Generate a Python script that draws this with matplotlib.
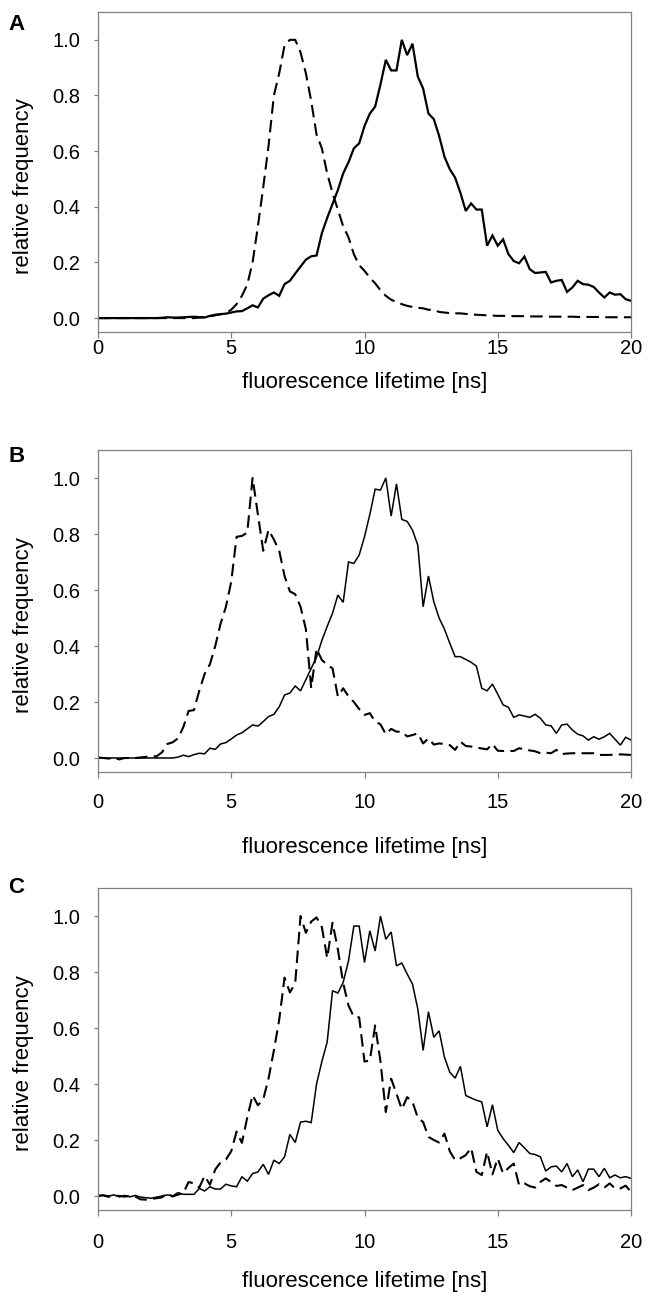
# Fluorescence lifetime histograms, three panels (A, B, C)
# solid and dashed curves, relative frequency vs lifetime in ns

import matplotlib
matplotlib.use('Agg')
import matplotlib.pyplot as plt
from matplotlib.ticker import FormatStrFormatter
import numpy as np

plt.rcParams['font.family'] = ['Liberation Sans', 'DejaVu Sans']

# lifetime bins, 0.2 ns wide, 0 to 20 ns (101 points)
lifetime = np.linspace(0, 20, 101)

# Panel A
a_solid = [0, 0, 0, 0, 0, 0, 0, 0, 0, 0,
           0, 0, 0.001, 0.003, 0.002, 0.002, 0.003, 0.004, 0.005, 0.003,
           0.002, 0.008, 0.012, 0.014, 0.016, 0.02, 0.024, 0.025, 0.035, 0.046,
           0.038, 0.07, 0.082, 0.092, 0.08, 0.122, 0.134, 0.16, 0.185, 0.21,
           0.222, 0.225, 0.305, 0.36, 0.41, 0.46, 0.52, 0.56, 0.61, 0.628,
           0.69, 0.735, 0.76, 0.84, 0.928, 0.89, 0.89, 1.0, 0.945, 0.986,
           0.868, 0.825, 0.735, 0.715, 0.655, 0.58, 0.535, 0.505, 0.45, 0.385,
           0.412, 0.39, 0.39, 0.26, 0.297, 0.26, 0.283, 0.23, 0.205, 0.197,
           0.221, 0.176, 0.162, 0.164, 0.166, 0.128, 0.134, 0.137, 0.094, 0.11,
           0.134, 0.122, 0.12, 0.112, 0.092, 0.074, 0.092, 0.084, 0.086, 0.068,
           0.062]
a_dashed = [0, 0, 0, 0, 0, 0, 0, 0, 0, 0,
            0, 0, 0, 0, 0, 0, 0, 0, 0, 0.002,
            0.004, 0.006, 0.01, 0.014, 0.018, 0.03, 0.05, 0.08, 0.12, 0.2,
            0.33, 0.47, 0.62, 0.8, 0.88, 0.98, 1.0, 1.0, 0.955, 0.88,
            0.78, 0.66, 0.61, 0.52, 0.45, 0.39, 0.33, 0.29, 0.23, 0.19,
            0.17, 0.145, 0.125, 0.1, 0.08, 0.066, 0.058, 0.05, 0.044, 0.04,
            0.037, 0.035, 0.03, 0.03, 0.022, 0.02, 0.018, 0.017, 0.017, 0.015,
            0.013, 0.012, 0.011, 0.01, 0.009, 0.008, 0.008, 0.008, 0.007, 0.007,
            0.007, 0.006, 0.006, 0.006, 0.006, 0.005, 0.005, 0.005, 0.005, 0.005,
            0.004, 0.004, 0.004, 0.004, 0.004, 0.003, 0.003, 0.003, 0.003, 0.003,
            0.003]

# Panel B
b_solid = [0, 0, 0, 0, 0, 0, 0, 0, 0, 0,
           0, 0, 0, 0, 0, 0.003, 0.01, 0.005, 0.012, 0.017,
           0.015, 0.035, 0.031, 0.05, 0.055, 0.068, 0.082, 0.09, 0.104, 0.118,
           0.114, 0.13, 0.148, 0.156, 0.183, 0.225, 0.232, 0.257, 0.24, 0.28,
           0.32, 0.36, 0.42, 0.47, 0.517, 0.582, 0.556, 0.70, 0.695, 0.725,
           0.79, 0.87, 0.96, 0.957, 1.0, 0.864, 0.979, 0.852, 0.845, 0.814,
           0.76, 0.54, 0.65, 0.558, 0.50, 0.46, 0.41, 0.362, 0.362, 0.352,
           0.342, 0.328, 0.249, 0.24, 0.264, 0.228, 0.19, 0.181, 0.145, 0.154,
           0.15, 0.145, 0.156, 0.142, 0.118, 0.115, 0.088, 0.118, 0.121, 0.1,
           0.085, 0.079, 0.064, 0.076, 0.067, 0.076, 0.088, 0.067, 0.046, 0.074,
           0.064]
b_dashed = [0.002, 0, -0.002, 0, -0.005, 0, 0, 0, 0.002, 0.004,
            0.006, 0.006, 0.02, 0.05, 0.056, 0.07, 0.11, 0.168, 0.171, 0.24,
            0.30, 0.335, 0.40, 0.48, 0.54, 0.63, 0.79, 0.793, 0.805, 1.0,
            0.87, 0.74, 0.815, 0.78, 0.74, 0.65, 0.595, 0.585, 0.54, 0.46,
            0.25, 0.39, 0.35, 0.333, 0.32, 0.22, 0.249, 0.22, 0.2, 0.175,
            0.154, 0.16, 0.13, 0.12, 0.085, 0.104, 0.094, 0.094, 0.077, 0.082,
            0.088, 0.052, 0.07, 0.048, 0.052, 0.05, 0.046, 0.029, 0.058, 0.043,
            0.041, 0.037, 0.034, 0.031, 0.05, 0.026, 0.025, 0.025, 0.025, 0.035,
            0.031, 0.027, 0.024, 0.017, 0.019, 0.017, 0.029, 0.014, 0.016, 0.017,
            0.017, 0.017, 0.017, 0.017, 0.011, 0.011, 0.011, 0.012, 0.013, 0.012,
            0.011]

# Panel C
c_solid = [0.002, 0.003, 0, 0.004, -0.003, 0.002, -0.003, 0.002, -0.004, -0.006,
           -0.008, -0.004, 0, 0.004, 0, 0.012, 0.006, 0.006, 0.006, 0.027,
           0.018, 0.033, 0.025, 0.025, 0.042, 0.036, 0.033, 0.069, 0.053, 0.08,
           0.086, 0.113, 0.077, 0.128, 0.116, 0.14, 0.22, 0.191, 0.264, 0.267,
           0.262, 0.40, 0.48, 0.55, 0.733, 0.725, 0.763, 0.84, 0.964, 0.964,
           0.834, 0.947, 0.875, 1.0, 0.917, 0.943, 0.822, 0.832, 0.793, 0.757,
           0.668, 0.52, 0.658, 0.567, 0.59, 0.496, 0.442, 0.421, 0.463, 0.359,
           0.35, 0.342, 0.336, 0.247, 0.326, 0.235, 0.205, 0.181, 0.155, 0.191,
           0.172, 0.152, 0.148, 0.14, 0.089, 0.104, 0.107, 0.086, 0.116, 0.069,
           0.093, 0.051, 0.096, 0.096, 0.069, 0.099, 0.065, 0.075, 0.065, 0.069,
           0.063]
c_dashed = [0, 0.002, -0.003, 0.002, 0, -0.002, 0, -0.002, -0.012, -0.013,
            -0.01, -0.008, -0.005, 0.01, -0.002, 0.005, 0.01, 0.05, 0.045, 0.03,
            0.072, 0.04, 0.095, 0.12, 0.13, 0.16, 0.23, 0.19, 0.28, 0.36,
            0.324, 0.345, 0.42, 0.52, 0.63, 0.78, 0.727, 0.76, 1.0, 0.94,
            0.98, 0.995, 0.96, 0.85, 0.976, 0.881, 0.76, 0.68, 0.64, 0.638,
            0.48, 0.484, 0.609, 0.48, 0.3, 0.419, 0.365, 0.31, 0.353, 0.336,
            0.28, 0.264, 0.211, 0.2, 0.191, 0.223, 0.16, 0.128, 0.135, 0.146,
            0.172, 0.086, 0.075, 0.158, 0.077, 0.134, 0.081, 0.1, 0.116, 0.039,
            0.045, 0.035, 0.03, 0.05, 0.063, 0.05, 0.036, 0.039, 0.03, 0.021,
            0.03, 0.039, 0.021, 0.03, 0.042, 0.03, 0.045, 0.027, 0.027, 0.037,
            0.015]

panel_letters = ['A', 'B', 'C']
x_ticks = [0, 5, 10, 15, 20]
y_ticks = [0.0, 0.2, 0.4, 0.6, 0.8, 1.0]

# Figure, 648 x 1297 px
W, H = 648, 1297
fig = plt.figure(figsize=(W / 100, H / 100), dpi=100)

# pixel layout of each panel: (axes top, axes bottom, x tick pad, xlabel top,
# solid line width, letter top)
layout = [(12, 332, 1.0, 372, 1.6, 14),
          (450, 772, 11.0, 837, 1.1, 446),
          (888, 1210, 12.5, 1271, 1.1, 877)]
curves = [(a_solid, a_dashed), (b_solid, b_dashed), (c_solid, c_dashed)]

left, right = 98, 631
grey = '#808080'

for letter, (solid, dashed), (top, bottom, xpad, xlab_top, lw, let_top) in zip(panel_letters, curves, layout):
    ax = fig.add_axes([left / W, 1 - bottom / H, (right - left) / W, (bottom - top) / H])
    ax.plot(lifetime, solid, color='black', lw=lw, solid_joinstyle='miter')
    ax.plot(lifetime, dashed, color='black', lw=1.5, linestyle=(0, (6, 3)))

    ax.set_xlim(0, 20)
    ax.set_ylim(-0.05, 1.1)
    ax.set_xticks(x_ticks)
    ax.set_yticks(y_ticks)
    ax.yaxis.set_major_formatter(FormatStrFormatter('%.1f'))

    for sp in ax.spines.values():
        sp.set_color(grey)
        sp.set_linewidth(0.9)
    ax.tick_params(axis='x', direction='out', length=4.3, width=0.9, color=grey,
                   pad=xpad, labelsize=14.5)
    ax.tick_params(axis='y', direction='out', length=3.0, width=0.9, color=grey,
                   pad=10, labelsize=14.5)

    ax.set_xlabel('fluorescence lifetime [ns]', fontsize=16, va='top')
    ax.xaxis.set_label_coords(0.5, (bottom - xlab_top) / (bottom - top))
    ax.set_ylabel('relative frequency', fontsize=16)
    ax.yaxis.set_label_coords((34 - left) / (right - left), 0.455)

    fig.text(8 / W, 1 - let_top / H, letter, fontsize=16, fontweight='bold',
             va='top', ha='left')

plt.savefig('out.png', dpi=100)
